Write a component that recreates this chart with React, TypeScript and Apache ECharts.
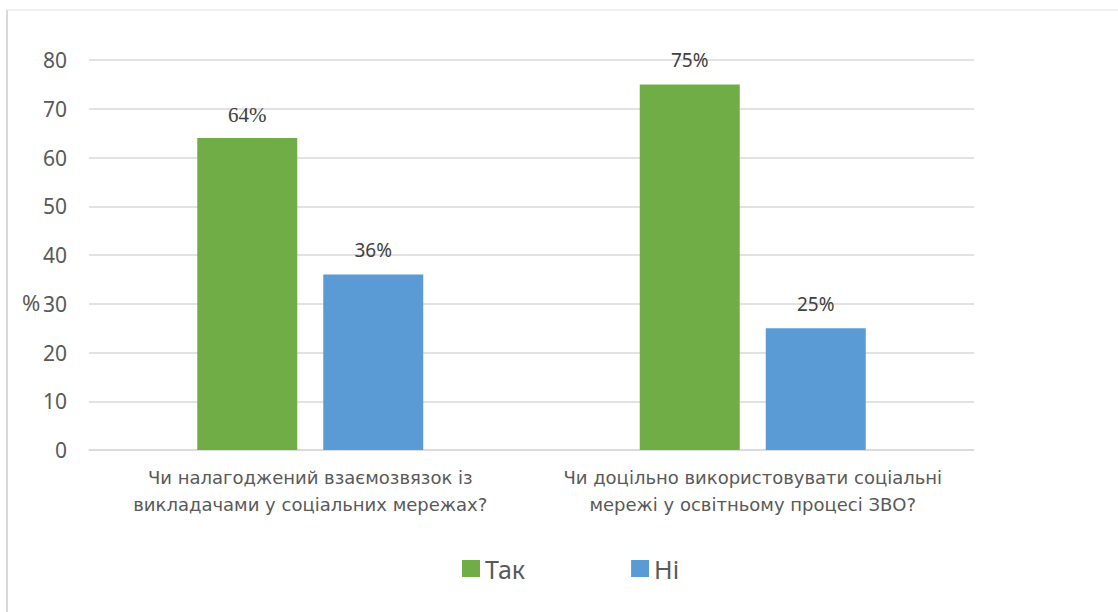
import React, { useEffect, useRef } from "react";
import * as echarts from "echarts";

const categories = [
  "Чи налагоджений взаємозвязок із\nвикладачами у соціальних мережах?",
  "Чи доцільно використовувати соціальні\nмережі у освітньому процесі ЗВО?",
];
const seriesNames = ["Так", "Ні"];
const takValues = [64, 75];
const niValues = [36, 25];
const colors = ["#70ad47", "#5b9bd5"];

export default function App() {
  const ref = useRef<HTMLDivElement>(null);
  useEffect(() => {
    if (!ref.current) return;
    const chart = echarts.init(ref.current, undefined, { renderer: "svg" });
    const font = "Noto Sans";
    const wide = "DejaVu Sans";
    const labelBase = {
      show: true,
      position: "top",
      distance: 15,
      formatter: "{c}%",
      fontSize: 19,
      color: "#404040",
      fontFamily: font,
    };
    chart.setOption({
      animation: false,
      backgroundColor: "#ffffff",
      grid: { left: 89, right: 144, top: 60, bottom: 162, containLabel: false },
      legend: {
        data: seriesNames,
        left: 457,
        top: 551,
        icon: "rect",
        itemWidth: 18,
        itemHeight: 17,
        itemGap: 106,
        textStyle: { fontSize: 25, color: "#595959", fontFamily: font },
      },
      xAxis: {
        type: "category",
        data: categories,
        axisLine: { lineStyle: { color: "#d9d9d9", width: 1.5 } },
        axisTick: { show: false },
        axisLabel: {
          fontSize: 18,
          color: "#595959",
          lineHeight: 27,
          margin: 14,
          interval: 0,
          fontFamily: wide,
        },
      },
      yAxis: {
        type: "value",
        min: 0,
        max: 80,
        interval: 10,
        axisLine: { show: false },
        axisTick: { show: false },
        axisLabel: { fontSize: 21, color: "#595959", margin: 22, fontFamily: font },
        splitLine: { lineStyle: { color: "#d9d9d9", width: 1.5 } },
      },
      graphic: [
        {
          type: "line",
          shape: { x1: 7, y1: 10, x2: 1118, y2: 10 },
          style: { stroke: "#ebebeb", lineWidth: 1.5 },
          silent: true,
        },
        {
          type: "line",
          shape: { x1: 7, y1: 10, x2: 7, y2: 612 },
          style: { stroke: "#d9d9d9", lineWidth: 2 },
          silent: true,
        },
        {
          type: "text",
          left: 22,
          top: 291,
          style: { text: "%", fontSize: 22, fill: "#595959", fontFamily: font },
          silent: true,
        },
      ],
      series: [
        {
          name: seriesNames[0],
          type: "bar",
          barWidth: 100,
          barGap: "26%",
          itemStyle: { color: colors[0] },
          label: labelBase,
          data: takValues.map((v, i) =>
            i === 0
              ? { value: v, label: { fontFamily: "serif", fontSize: 21, distance: 13 } }
              : v
          ),
        },
        {
          name: seriesNames[1],
          type: "bar",
          barWidth: 100,
          itemStyle: { color: colors[1] },
          label: labelBase,
          data: niValues,
        },
      ],
    });
    return () => chart.dispose();
  }, []);
  return (
    <div
      ref={ref}
      style={{ position: "fixed", left: 0, top: 0, width: 1118, height: 612 }}
    />
  );
}
